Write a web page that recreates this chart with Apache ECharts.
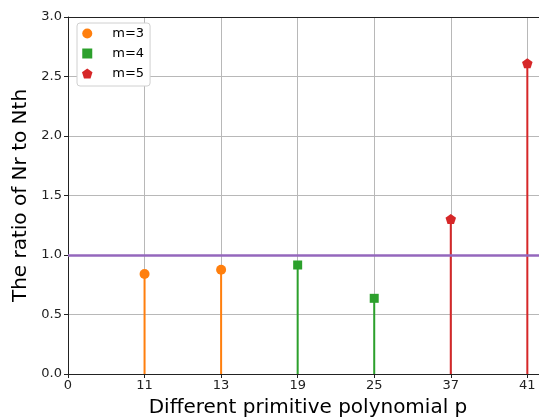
<!DOCTYPE html>
<html>
<head>
<meta charset="utf-8">
<script src="https://cdn.jsdelivr.net/npm/echarts@6/dist/echarts.min.js"></script>
<style>
html,body{margin:0;padding:0;background:#fff;}
#chart{width:539px;height:419px;}
</style>
</head>
<body>
<div id="chart"></div>
<script>
// Tick labels along the x axis (positions 0..6)
var tickLabels = ['0', '11', '13', '19', '25', '37', '41'];
// Groups: x positions (index into tickLabels) and ratio values
var m3Pos = [1, 2];
var m3Vals = [0.84, 0.876];
var m4Pos = [3, 4];
var m4Vals = [0.916, 0.636];
var m5Pos = [5, 6];
var m5Vals = [1.303, 2.611];
var refValue = 1.0;
var seriesNames = ['m=3', 'm=4', 'm=5'];

var colors = ['#ff7f0e', '#2ca02c', '#d62728'];
var symbols = [
  'circle',
  'path://M0,0 L1,0 L1,1 L0,1 Z',
  'path://M0,-1 L0.951,-0.309 L0.588,0.809 L-0.588,0.809 L-0.951,-0.309 Z'
];
var sizes = [10, 9, 10.5];
var groups = [[m3Pos, m3Vals], [m4Pos, m4Vals], [m5Pos, m5Vals]];

var series = [];
groups.forEach(function (g, i) {
  var stemData = [];
  var ptData = [];
  g[0].forEach(function (p, j) {
    stemData.push([p, 0]);
    stemData.push([p, g[1][j]]);
    stemData.push('-');
    ptData.push([p, g[1][j]]);
  });
  series.push({
    name: seriesNames[i] + '_stem',
    type: 'line',
    data: stemData,
    showSymbol: false,
    symbol: 'none',
    connectNulls: false,
    lineStyle: { color: colors[i], width: 2 },
    z: 3,
    silent: true
  });
  series.push({
    name: seriesNames[i],
    type: 'scatter',
    data: ptData,
    symbol: symbols[i],
    symbolSize: sizes[i],
    symbolKeepAspect: true,
    itemStyle: { color: colors[i], opacity: 1 },
    z: 5
  });
});
series.push({
  name: 'ref',
  type: 'line',
  data: [],
  markLine: {
    silent: true,
    symbol: 'none',
    label: { show: false },
    lineStyle: { color: '#9467bd', width: 2.5, type: 'solid' },
    data: [{ yAxis: refValue }]
  },
  z: 4
});

var chart = echarts.init(document.getElementById('chart'), null, { renderer: 'canvas' });
var font = 'DejaVu Sans';
var xMax = 6.27;
chart.setOption({
  animation: false,
  backgroundColor: '#ffffff',
  textStyle: { fontFamily: font },
  grid: {
    left: 68, top: 17, bottom: 45, right: -9,
    outerBoundsMode: 'none',
    containLabel: false,
    show: false
  },
  legend: {
    data: seriesNames,
    orient: 'vertical',
    left: 77, top: 23,
    padding: [4, 6, 6, 5],
    itemWidth: 24, itemHeight: 10, itemGap: 7,
    backgroundColor: '#fff',
    borderColor: '#d0d0d0', borderWidth: 1, borderRadius: 3,
    textStyle: { fontFamily: font, fontSize: 13, color: '#000', padding: [0, 0, 0, 8] }
  },
  xAxis: [{
    type: 'value', min: 0, max: xMax, interval: 1,
    name: 'Different primitive polynomial p',
    nameLocation: 'middle', nameGap: 24,
    nameTextStyle: { fontFamily: font, fontSize: 20, color: '#000' },
    axisLine: { show: true, onZero: false, lineStyle: { color: '#222', width: 1 } },
    axisTick: { show: true, length: 4, lineStyle: { color: '#222' } },
    axisLabel: {
      show: true, fontFamily: font, fontSize: 13, color: '#222', margin: 5,
      showMaxLabel: false,
      formatter: function (v) { var k = Math.round(v); return Math.abs(v - k) < 1e-6 && tickLabels[k] !== undefined ? tickLabels[k] : ''; }
    },
    splitLine: { show: true, lineStyle: { color: '#b8b8b8', width: 1 } }
  }, {
    type: 'value', min: 0, max: xMax, position: 'top',
    axisLine: { show: true, onZero: false, lineStyle: { color: '#222', width: 1 } },
    axisTick: { show: false }, axisLabel: { show: false }, splitLine: { show: false }
  }],
  yAxis: {
    type: 'value', min: 0, max: 3, interval: 0.5,
    name: 'The ratio of Nr to Nth',
    nameLocation: 'middle', nameGap: 36,
    nameTextStyle: { fontFamily: font, fontSize: 20, color: '#000' },
    axisLine: { show: true, lineStyle: { color: '#222', width: 1 } },
    axisTick: { show: true, length: 4, lineStyle: { color: '#222' } },
    axisLabel: {
      fontFamily: font, fontSize: 13, color: '#222', margin: 6,
      formatter: function (v) { return v.toFixed(1); }
    },
    splitLine: { show: true, lineStyle: { color: '#b8b8b8', width: 1 } }
  },
  series: series
});
</script>
</body>
</html>
